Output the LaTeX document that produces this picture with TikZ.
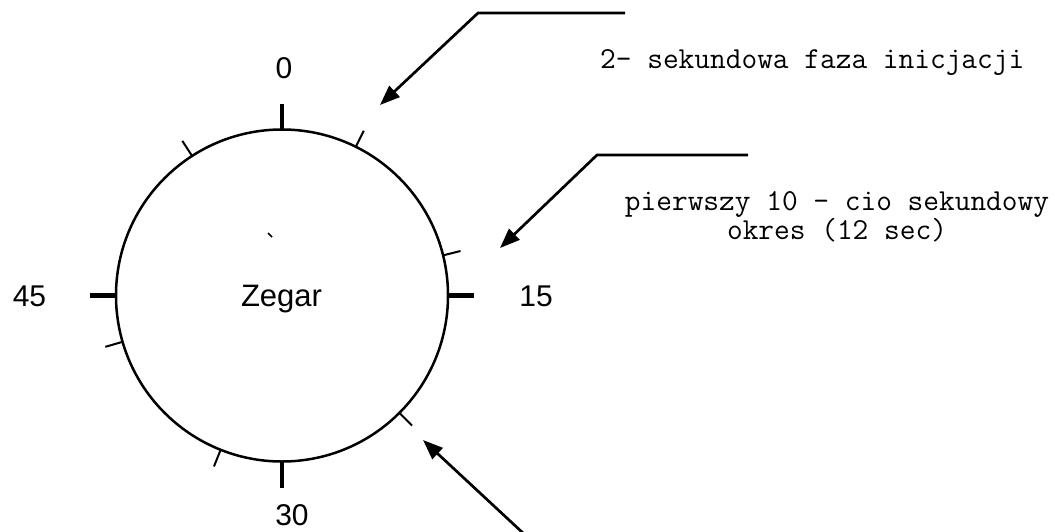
\documentclass[tikz,border=0pt]{standalone}
\usepackage{fontspec}
\setmainfont{Liberation Sans}
\usetikzlibrary{arrows.meta}
\begin{document}
\begin{tikzpicture}[x=1pt,y=-1pt,
  rim/.style={line width=2.5pt},
  major/.style={line width=4.5pt},
  minor/.style={line width=2pt},
  pointer/.style={line width=2.7pt,-{Triangle[length=20pt,width=15pt]}},
  num/.style={font=\fontsize{30}{36}\selectfont, inner sep=0pt},
  note/.style={font=\ttfamily\fontsize{30.5}{29}\selectfont, inner sep=0pt}]
\useasboundingbox (0,0) rectangle (1055,531);

% clock face
\coordinate (c) at (282,295.5);
\draw[rim] (c) circle[radius=166];

% quarter marks
\foreach \a in {-90,0,90,180}
  \draw[major] (c) ++(\a:166) -- ++(\a:26);

% intermediate marks
\foreach \a in {-63.6,-122.8,-14,45,163.8,111.7}
  \draw[minor] (c) ++(\a:166) -- ++(\a:18);

% small speck inside the face
\draw[line width=1.5pt] (268,233) -- (272,237);

% labels
\node[num] (n0) at (284,68) {0};
\node[num] (n15) at (536,296) {15};
\node[num] (n30) at (292,515) {30};
\node[num] (n45) at (29.5,296) {45};
\node[font=\fontsize{31}{36}\selectfont, inner sep=0pt, anchor=base] (zegar) at (281.5,306) {Zegar};

% annotations
\node[note, anchor=base west] (t1) at (600,68) {2- sekundowa faza inicjacji};
\node[note, align=center] (t2) at (837,216.5) {pierwszy 10 - cio sekundowy\\okres (12 sec)};

% pointers
\coordinate (a1s) at (625,13);
\coordinate (a1k) at (478,13);
\coordinate (a1t) at (380,105);
\draw[pointer] (a1s) -- (a1k) -- (a1t);

\coordinate (a2s) at (748,155);
\coordinate (a2k) at (597,155);
\coordinate (a2t) at (500,248);
\draw[pointer] (a2s) -- (a2k) -- (a2t);

\coordinate (a3s) at (523,533);
\coordinate (a3t) at (423,440);
\draw[pointer] (a3s) -- (a3t);
\end{tikzpicture}
\end{document}
